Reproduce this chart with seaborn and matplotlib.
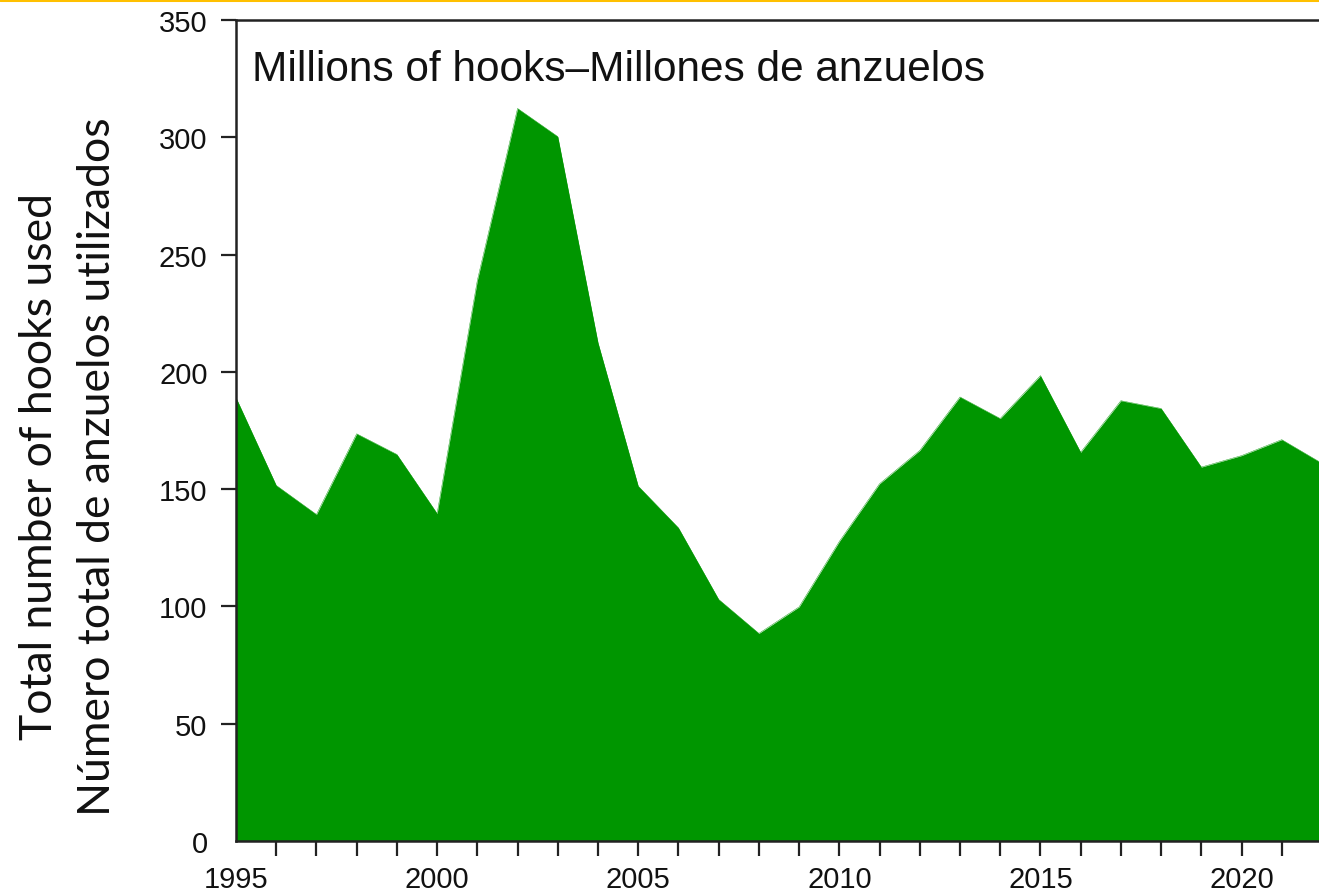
#!/usr/bin/env python3
"""Total number of hooks used, 1995-2022 (area chart)."""

import matplotlib

matplotlib.use("Agg")
import matplotlib.pyplot as plt
import numpy as np
import pandas as pd
import seaborn as sns
from matplotlib.lines import Line2D

years = list(range(1995, 2023))
hooks_millions = [
    189, 151.6, 139.2, 173.6, 164.8, 139.6, 239, 312.3, 300.3, 212.4,
    151.3, 133.5, 103, 88.5, 99.8, 127.7, 152.3, 166.5, 189.3, 180.1,
    198.4, 165.7, 187.7, 184.4, 159.4, 164.3, 171.1, 161,
]
y_ticks = [0, 50, 100, 150, 200, 250, 300, 350]
x_labelled = [1995, 2000, 2005, 2010, 2015, 2020]

title_text = "Millions of hooks\u2013Millones de anzuelos"
ylabel_en = "Total number of hooks used"
ylabel_es = "Número total de anzuelos utilizados"

GREEN = "#009600"
W, H = 1319, 895

df = pd.DataFrame({"year": years, "hooks": hooks_millions})

sns.set_theme(style="ticks")
plt.rcParams["font.family"] = ["Liberation Sans", "DejaVu Sans"]

fig = plt.figure(figsize=(W / 100, H / 100), dpi=100)
# axes runs past the right edge of the canvas, like the cropped original
ax = fig.add_axes([236 / W, (H - 842) / H, (1322 - 236) / W, (842 - 21) / H])

sns.lineplot(data=df, x="year", y="hooks", ax=ax, color=GREEN, linewidth=0.3)
ax.fill_between(df["year"], 0, df["hooks"], color=GREEN, linewidth=0)

ax.set_xlim(1995, 2022)
ax.set_ylim(0, 350)
ax.set_xticks(years)
ax.set_xticklabels([str(y) if y in x_labelled else "" for y in years])
ax.set_yticks(y_ticks)
ax.set_xlabel("")
ax.set_ylabel("")

for side in ["left", "bottom", "top"]:
    ax.spines[side].set_linewidth(1.8)
    ax.spines[side].set_color("#222222")
ax.spines["right"].set_visible(False)
ax.tick_params(axis="both", length=10.5, width=1.6, color="#222222",
               labelsize=21, labelcolor="#111111")
ax.tick_params(axis="y", pad=10)
ax.tick_params(axis="x", pad=6.5)
# no tick marks at the corner (1995 / 0), only the labels
ax.xaxis.get_major_ticks()[0].tick1line.set_visible(False)
ax.yaxis.get_major_ticks()[0].tick1line.set_visible(False)

fig.text(252 / W, 1 - 70 / H, title_text, fontsize=30.5, color="#111111",
         ha="left", va="center")

fig.text(40 / W, 1 - 467 / H, ylabel_en, rotation=90, fontsize=32,
         family=["Lato", "DejaVu Sans"], ha="center", va="center", color="#111111")
fig.text(98 / W, 1 - 467 / H, ylabel_es, rotation=90, fontsize=32,
         family=["Lato", "DejaVu Sans"], ha="center", va="center", color="#111111")

# yellow rule along the top of the slide
fig.add_artist(Line2D([0, 1], [1 - 1.2 / H, 1 - 1.2 / H], transform=fig.transFigure,
                      color="#FFC000", linewidth=2.2))

fig.savefig("out.png", dpi=100)
plt.close(fig)
